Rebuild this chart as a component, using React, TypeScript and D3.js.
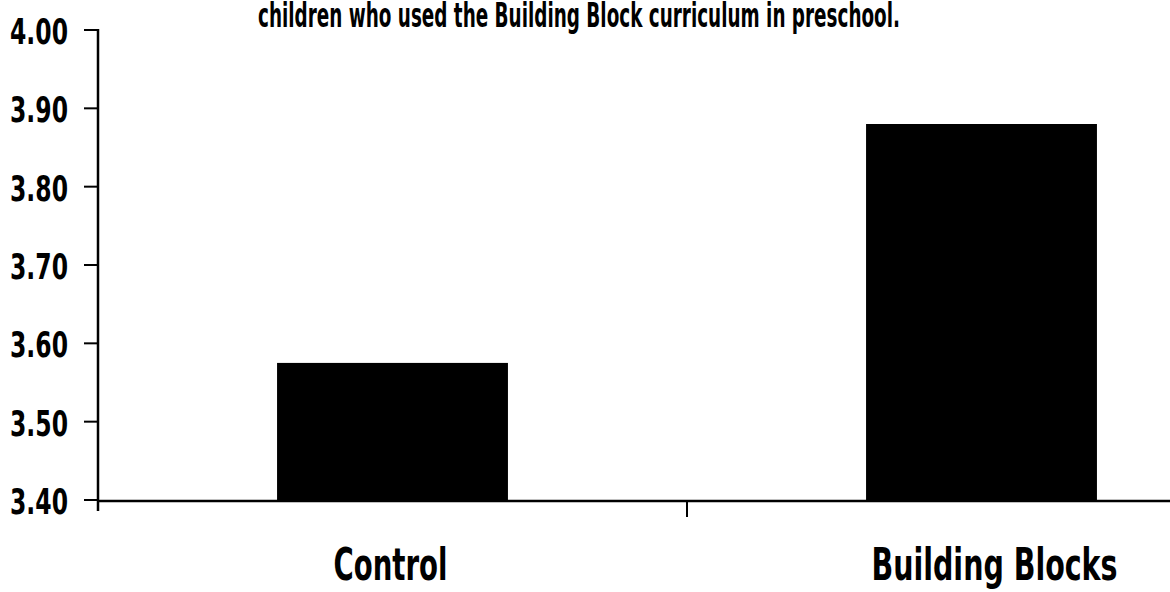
import React, { useRef, useEffect } from "react";
import * as d3 from "d3";

const categories = ["Control", "Building Blocks"];
const scores = [3.575, 3.88];
const yTicks = [3.4, 3.5, 3.6, 3.7, 3.8, 3.9, 4.0];
const title = "children who used the Building Block curriculum in preschool.";

const W = 1170;
const H = 592;
const FONT = "'Liberation Sans Narrow', 'DejaVu Sans Condensed', 'Arial Narrow', sans-serif";

export default function App() {
  const ref = useRef<SVGSVGElement>(null);

  useEffect(() => {
    const svg = d3.select(ref.current);
    svg.selectAll("*").remove();

    const axisX = 98;
    // band range runs past the right edge, like the cropped original
    const x = d3.scaleBand<string>()
      .domain(categories)
      .range([axisX, 1276])
      .paddingInner(0.608)
      .paddingOuter(0.304);
    // step without padding, for the between-category tick
    const xStep = d3.scaleBand<string>().domain(categories).range([axisX, 1276]).padding(0);

    const y = d3.scaleLinear().domain([3.4, 4.0]).range([500, 30]);

    svg.append("rect").attr("width", W).attr("height", H).attr("fill", "#fff");

    // title (top cut off in the source)
    svg.append("text")
      .attr("x", 258)
      .attr("y", 27)
      .attr("textLength", 642)
      .attr("lengthAdjust", "spacingAndGlyphs")
      .style("font-family", FONT)
      .style("font-weight", "bold")
      .style("font-size", "34px")
      .text(title);

    // bars
    svg.selectAll(".bar")
      .data(scores)
      .enter()
      .append("rect")
      .attr("class", "bar")
      .attr("x", (d, i) => x(categories[i]) as number)
      .attr("y", (d) => y(d))
      .attr("width", x.bandwidth())
      .attr("height", (d) => y(3.4) - y(d))
      .attr("fill", "#000");

    // y axis
    svg.append("line")
      .attr("x1", axisX).attr("x2", axisX)
      .attr("y1", y(4.0) - 1).attr("y2", y(3.4) + 11)
      .attr("stroke", "#000").attr("stroke-width", 2.5);

    const tg = svg.selectAll(".ytick")
      .data(yTicks)
      .enter()
      .append("g")
      .attr("class", "ytick")
      .attr("transform", (d) => "translate(0," + y(d) + ")");

    tg.append("line")
      .attr("x1", 84).attr("x2", axisX)
      .attr("stroke", "#000").attr("stroke-width", 2);

    tg.append("text")
      .attr("x", 10)
      .attr("y", 14)
      .attr("textLength", 58)
      .attr("lengthAdjust", "spacingAndGlyphs")
      .style("font-family", FONT)
      .style("font-weight", "bold")
      .style("font-size", "35px")
      .text((d) => d3.format(".2f")(d));

    // x axis
    svg.append("line")
      .attr("x1", axisX).attr("x2", W)
      .attr("y1", y(3.4) + 1).attr("y2", y(3.4) + 1)
      .attr("stroke", "#000").attr("stroke-width", 2.5);

    const midTick = (xStep(categories[1]) as number);
    svg.append("line")
      .attr("x1", midTick).attr("x2", midTick)
      .attr("y1", y(3.4)).attr("y2", y(3.4) + 17)
      .attr("stroke", "#000").attr("stroke-width", 2);

    // category labels
    svg.selectAll(".xlabel")
      .data(categories)
      .enter()
      .append("text")
      .attr("class", "xlabel")
      .attr("x", (d) => (x(d) as number) + x.bandwidth() / 2 + (d === "Control" ? -2 : 13))
      .attr("y", 580)
      .attr("text-anchor", "middle")
      .attr("textLength", (d) => (d === "Control" ? 114 : 246))
      .attr("lengthAdjust", "spacingAndGlyphs")
      .style("font-family", FONT)
      .style("font-weight", "bold")
      .style("font-size", "44px")
      .text((d) => d);
  }, []);

  return (
    <svg
      ref={ref}
      width={W}
      height={H}
      style={{ position: "absolute", left: 0, top: 0, display: "block" }}
    />
  );
}
